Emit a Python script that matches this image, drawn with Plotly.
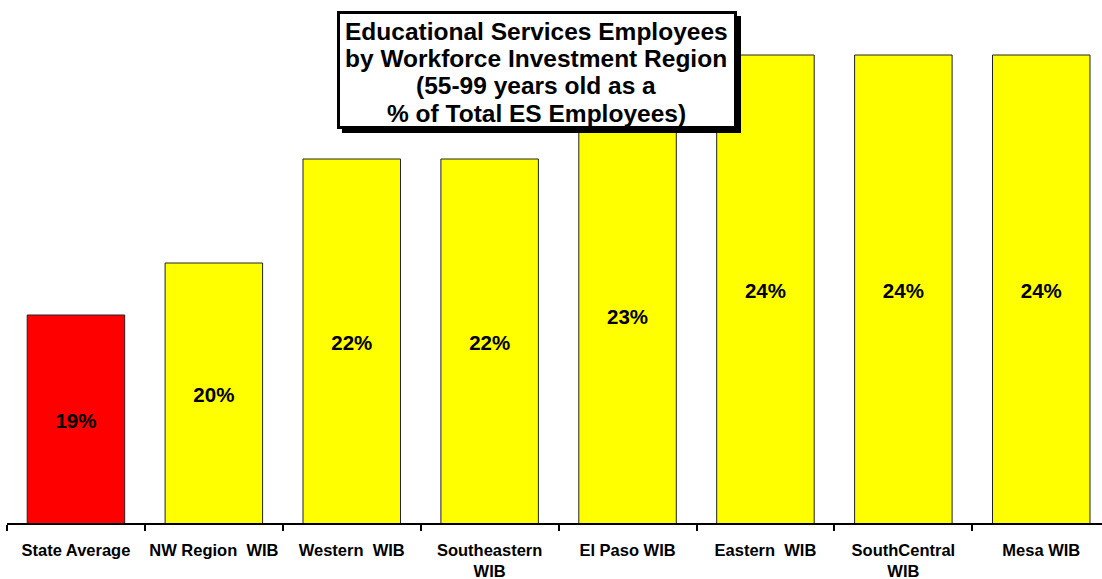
import plotly.graph_objects as go

categories = ["State Average", "NW Region  WIB", "Western  WIB", "Southeastern<br>WIB",
              "El Paso WIB", "Eastern  WIB", "SouthCentral<br>WIB", "Mesa WIB"]
values = [19, 20, 22, 22, 23, 24, 24, 24]
labels = ["19%", "20%", "22%", "22%", "23%", "24%", "24%", "24%"]
colors = ["#FF0000"] + ["#FFFF00"] * 7
title_lines = ["Educational Services Employees", "by Workforce Investment Region",
               "(55-99 years old as a", "% of Total ES Employees)"]

W, H = 1102, 579
ML, MR, MT, MB = 7, 0, 0, 56
PW, PH = W - ML - MR, H - MT - MB
YMIN = 15.0
YMAX = YMIN + PH / 52.0

def px(x):
    return (x - ML) / PW

def py(y):
    return (H - MB - y) / PH

fig = go.Figure()
fig.add_trace(go.Bar(
    x=categories, y=values,
    marker=dict(color=colors, line=dict(color="#222222", width=1)),
    hoverinfo="skip",
))
fig.add_trace(go.Scatter(
    x=categories, y=[(v + YMIN) / 2 - 0.08 for v in values],
    mode="text", text=labels,
    textfont=dict(family="Liberation Sans, Arial, sans-serif", size=20.5, color="black", weight="bold"),
    textposition="middle center", hoverinfo="skip",
))

# title box with shadow
fig.add_shape(type="rect", xref="paper", yref="paper",
              x0=px(342), x1=px(741), y0=py(133), y1=py(16),
              fillcolor="black", line=dict(width=0))
fig.add_shape(type="rect", xref="paper", yref="paper",
              x0=px(338.5), x1=px(735.5), y0=py(127.5), y1=py(12.5),
              fillcolor="white", line=dict(color="black", width=3))
for i, (line, yc) in enumerate(zip(title_lines, [31.5, 58.5, 86, 114])):
    fig.add_annotation(text="<b>" + line + "</b>", xref="paper", yref="paper",
                       x=px(536), y=py(yc), xanchor="center", yanchor="middle",
                       showarrow=False,
                       font=dict(family="Liberation Sans, Arial, sans-serif", size=24.5, color="black"))

fig.update_layout(
    width=W, height=H,
    margin=dict(l=ML, r=MR, t=MT, b=MB),
    paper_bgcolor="white", plot_bgcolor="white",
    showlegend=False, bargap=0.293,
    font=dict(family="Liberation Sans, Arial, sans-serif", color="black"),
)
fig.update_xaxes(
    range=[-0.5, -0.5 + PW / 137.9],
    showline=True, linecolor="black", linewidth=2,
    ticks="outside", tickson="boundaries", ticklen=6, tickwidth=1.5, tickcolor="black",
    tickangle=0, automargin=False, ticklabelstandoff=11,
    tickfont=dict(family="Liberation Sans, Arial, sans-serif", size=16.5, color="black", weight="bold"),
    showgrid=False, zeroline=False,
)
fig.update_yaxes(range=[YMIN, YMAX], visible=False, showgrid=False)

fig.write_html("out.html")
